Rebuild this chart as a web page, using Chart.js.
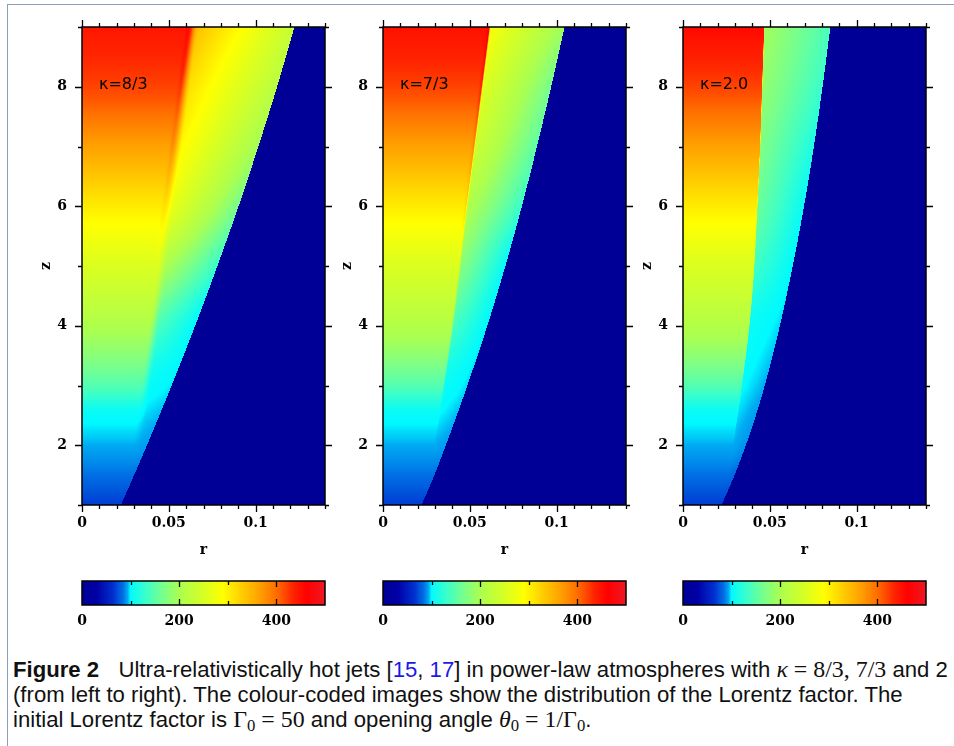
<!DOCTYPE html>
<html>
<head>
<meta charset="utf-8">
<script src="https://cdn.jsdelivr.net/npm/chart.js@4.4.1/dist/chart.umd.min.js"></script>
<style>
  html, body { margin: 0; padding: 0; background: #fff; }
  body { width: 954px; height: 746px; position: relative; overflow: hidden; }
  .frame { position: absolute; left: 7px; top: 4px; width: 960px; height: 760px;
           border-left: 1px solid #8d9fbb; border-top: 1px solid #8d9fbb; }
  canvas { position: absolute; }
  .cap { position: absolute; left: 13px; white-space: nowrap; color: #111;
         font-family: "Liberation Sans", Arial, sans-serif; font-size: 18px; line-height: 22px; }
  .cap b { margin-right: 0.6em; }
  .ref { color: #1a1ae6; }
  .m { font-family: "Liberation Serif", "DejaVu Serif", serif; font-size: 1.08em; }
  .m sub { font-size: 0.7em; vertical-align: -0.25em; }
</style>
</head>
<body>
<div class="frame"></div>
<div class="cap" id="cap1" style="top:658px"><b>Figure 2</b> Ultra-relativistically hot jets [<span class="ref">15</span>, <span class="ref">17</span>] in power-law atmospheres with <span class="m"><i>κ</i> = 8/3, 7/3</span> and 2</div>
<div class="cap" id="cap2" style="top:684px">(from left to right). The colour-coded images show the distribution of the Lorentz factor. The</div>
<div class="cap" id="cap3" style="top:708px">initial Lorentz factor is <span class="m">Γ<sub>0</sub> = 50</span> and opening angle <span class="m"><i>θ</i><sub>0</sub> = 1/Γ<sub>0</sub></span>.</div>

<script>
// ---- heights along the jet axis at which the profiles are given ----
const zLevels = [1, 1.5, 2, 2.5, 3, 4, 5, 6, 7, 8, 9];

// ---- kappa = 8/3 ----
const edgeK83          = [0.0224, 0.0300, 0.0374, 0.0446, 0.0516, 0.0652, 0.0780, 0.0902, 0.1016, 0.1124, 0.1224];
const coreK83          = [0.0224, 0.0255, 0.0283, 0.0312, 0.0340, 0.0385, 0.0428, 0.0472, 0.0518, 0.0564, 0.0610];
const gammaAxisK83     = [68, 84, 94, 102, 145, 205, 255, 305, 365, 420, 445];
const gammaRidgeK83    = [68, 84, 94, 102, 145, 205, 258, 315, 378, 428, 458];
const gammaShellInK83  = [68, 84, 94, 98, 104, 150, 215, 280, 305, 325, 350];
const gammaShellOutK83 = [68, 84, 92, 95, 98, 100, 130, 165, 195, 215, 230];

// ---- kappa = 7/3 ----
const edgeK73          = [0.0222, 0.0296, 0.0362, 0.0425, 0.0486, 0.0601, 0.0705, 0.0800, 0.0887, 0.0969, 0.1046];
const coreK73          = [0.0222, 0.0258, 0.0290, 0.0319, 0.0345, 0.0395, 0.0437, 0.0478, 0.0522, 0.0566, 0.0610];
const gammaAxisK73     = [68, 84, 94, 102, 145, 210, 255, 305, 365, 420, 450];
const gammaRidgeK73    = [68, 84, 94, 102, 145, 210, 262, 320, 385, 440, 470];
const gammaShellInK73  = [68, 84, 94, 99, 105, 140, 180, 210, 240, 260, 285];
const gammaShellOutK73 = [68, 84, 92, 95, 97, 98, 102, 130, 150, 165, 190];

// ---- kappa = 2 ----
const edgeK2           = [0.0222, 0.0297, 0.0362, 0.0420, 0.0471, 0.0558, 0.0632, 0.0697, 0.0754, 0.0804, 0.0849];
const coreK2           = [0.0222, 0.0255, 0.0286, 0.0312, 0.0337, 0.0380, 0.0408, 0.0426, 0.0442, 0.0454, 0.0466];
const gammaAxisK2      = [68, 84, 94, 102, 145, 210, 255, 305, 365, 420, 455];
const gammaRidgeK2     = [68, 84, 94, 102, 145, 210, 255, 305, 365, 420, 455];
const gammaShellInK2   = [68, 84, 94, 97, 100, 105, 135, 160, 172, 185, 195];
const gammaShellOutK2  = [68, 82, 90, 92, 94, 97, 99, 103, 115, 130, 140];

const panelLabels = ['κ=8/3', 'κ=7/3', 'κ=2.0'];

// ---- ticks ----
const rTickLabels = [0, 0.05, 0.1];
const rTickMarks  = [0, 0.01, 0.02, 0.03, 0.04, 0.05, 0.06, 0.07, 0.08, 0.09, 0.1, 0.11, 0.12, 0.13, 0.14];
const zTickLabels = [2, 4, 6, 8];
const zTickMarks  = [1, 2, 3, 4, 5, 6, 7, 8, 9];
const cbTickLabels = [0, 200, 400];
const cbTickMarks  = [100, 200, 300, 400];

// ---- colour table for the Lorentz factor ----
const CMAP = [
  [0, 0, 0, 150], [30, 0, 0, 165], [63, 0, 45, 205], [84, 0, 110, 228], [94, 0, 170, 242],
  [99, 0, 250, 255], [132, 60, 255, 200], [166, 120, 255, 140], [200, 170, 255, 80],
  [256, 220, 255, 30], [290, 255, 255, 0], [325, 255, 210, 0], [366, 255, 160, 0],
  [400, 255, 110, 0], [435, 255, 35, 0], [462, 255, 0, 0], [500, 238, 25, 35]
];
function colourOf(v) {
  if (v <= CMAP[0][0]) return CMAP[0].slice(1);
  for (let i = 1; i < CMAP.length; i++) {
    if (v <= CMAP[i][0]) {
      const a = CMAP[i - 1], b = CMAP[i], t = (v - a[0]) / (b[0] - a[0]);
      return [0, 1, 2].map(k => Math.round(a[k + 1] + (b[k + 1] - a[k + 1]) * t));
    }
  }
  return CMAP[CMAP.length - 1].slice(1);
}
function rgb(v) { const c = colourOf(v); return `rgb(${c[0]},${c[1]},${c[2]})`; }

// smooth (monotone cubic Hermite) interpolation of a profile along z
function interp(arr, z) {
  const X = zLevels, n = X.length;
  if (z <= X[0]) return arr[0];
  if (z >= X[n - 1]) return arr[n - 1];
  let i = 0;
  while (z > X[i + 1]) i++;
  const slope = k => {
    if (k === 0) return (arr[1] - arr[0]) / (X[1] - X[0]);
    if (k === n - 1) return (arr[n - 1] - arr[n - 2]) / (X[n - 1] - X[n - 2]);
    const s0 = (arr[k] - arr[k - 1]) / (X[k] - X[k - 1]);
    const s1 = (arr[k + 1] - arr[k]) / (X[k + 1] - X[k]);
    if (s0 * s1 <= 0) return 0;
    return 2 / (1 / s0 + 1 / s1);
  };
  const h = X[i + 1] - X[i], t = (z - X[i]) / h;
  const h00 = 2 * t * t * t - 3 * t * t + 1, h10 = t * t * t - 2 * t * t + t;
  const h01 = -2 * t * t * t + 3 * t * t, h11 = t * t * t - t * t;
  return h00 * arr[i] + h10 * h * slope(i) + h01 * arr[i + 1] + h11 * h * slope(i + 1);
}

const panels = [
  { edge: edgeK83, core: coreK83, axis: gammaAxisK83, ridge: gammaRidgeK83,
    shellIn: gammaShellInK83, shellOut: gammaShellOutK83, ridgeWidth: 0.0025, blend: 0.006 },
  { edge: edgeK73, core: coreK73, axis: gammaAxisK73, ridge: gammaRidgeK73,
    shellIn: gammaShellInK73, shellOut: gammaShellOutK73, ridgeWidth: 0.002, blend: 0.0012 },
  { edge: edgeK2, core: coreK2, axis: gammaAxisK2, ridge: gammaRidgeK2,
    shellIn: gammaShellInK2, shellOut: gammaShellOutK2, ridgeWidth: 0.001, blend: 0.0005 }
];

// Lorentz factor at (r, z): hot core, contact ridge, cocoon shell, ambient medium
function lorentz(p, r, z) {
  const e = interp(p.edge, z), c = Math.min(interp(p.core, z), e);
  if (r > e) return 0;
  const ga = interp(p.axis, z), gr = interp(p.ridge, z);
  if (r <= c) {
    const t = Math.max(0, 1 - (c - r) / p.ridgeWidth);
    return ga + (gr - ga) * t * t;
  }
  const gi = interp(p.shellIn, z), go = interp(p.shellOut, z);
  const s = gi + (go - gi) * Math.min(1, (r - c) / Math.max(e - c, 1e-6));
  if (r - c < p.blend) {
    const t = (r - c) / p.blend, sm = t * t * (3 - 2 * t);
    return gr + (s - gr) * sm;
  }
  return s;
}

function heatmapPlugin(p) {
  return {
    id: 'lorentzMap',
    beforeDatasetsDraw(chart) {
      const { ctx, chartArea: a, scales: { x, y } } = chart;
      const N = Math.round(a.right - a.left), M = Math.round(a.bottom - a.top);
      const r0 = x.min, r1 = x.max, z0 = y.min, z1 = y.max;
      const xs = [], ys = [];
      for (let i = 0; i <= N; i++) xs.push(Math.round(x.getPixelForValue(r0 + (r1 - r0) * i / N)));
      for (let j = 0; j <= M; j++) ys.push(Math.round(y.getPixelForValue(z0 + (z1 - z0) * j / M)));
      ctx.save();
      for (let j = 0; j < M; j++) {
        const z = z0 + (z1 - z0) * (j + 0.5) / M;
        const top = ys[j + 1], h = ys[j] - ys[j + 1];
        if (h <= 0) continue;
        let runStart = 0, runCol = null;
        for (let i = 0; i <= N; i++) {
          const col = i < N ? rgb(lorentz(p, r0 + (r1 - r0) * (i + 0.5) / N, z)) : null;
          if (col !== runCol) {
            if (runCol !== null) { ctx.fillStyle = runCol; ctx.fillRect(xs[runStart], top, xs[i] - xs[runStart], h); }
            runCol = col; runStart = i;
          }
        }
      }
      ctx.restore();
    }
  };
}

function isLabelled(list, v) { return list.some(t => Math.abs(t - v) < 1e-9); }

function framePlugin(label) {
  return {
    id: 'panelFrame',
    afterDraw(chart) {
      const { ctx, chartArea: a, scales: { x, y } } = chart;
      ctx.save();
      ctx.strokeStyle = '#000';
      ctx.lineWidth = 1.3;
      ctx.beginPath();
      rTickMarks.forEach(v => {
        const len = isLabelled(rTickLabels, v) ? 7 : 4;
        const px = Math.round(x.getPixelForValue(v)) + 0.5;
        ctx.moveTo(px, a.bottom); ctx.lineTo(px, a.bottom + len);
        ctx.moveTo(px, a.top); ctx.lineTo(px, a.top - len);
      });
      zTickMarks.forEach(v => {
        const len = isLabelled(zTickLabels, v) ? 7 : 4;
        const py = Math.round(y.getPixelForValue(v)) + 0.5;
        ctx.moveTo(a.left, py); ctx.lineTo(a.left - len, py);
        ctx.moveTo(a.right, py); ctx.lineTo(a.right + len, py);
      });
      ctx.stroke();
      ctx.lineWidth = 1.5;
      ctx.strokeRect(a.left, a.top, a.right - a.left, a.bottom - a.top);

      ctx.fillStyle = '#000';
      ctx.font = 'bold 14px "DejaVu Serif"';
      ctx.textAlign = 'center';
      ctx.textBaseline = 'middle';
      ctx.fillText('r', (a.left + a.right) / 2, a.bottom + 45);
      ctx.save();
      ctx.translate(a.left - 35.5, (a.top + a.bottom) / 2);
      ctx.rotate(-Math.PI / 2);
      ctx.fillText('z', 0, 0);
      ctx.restore();

      ctx.font = '16px "DejaVu Sans"';
      ctx.textAlign = 'left';
      ctx.fillStyle = '#000';
      ctx.fillText(label, x.getPixelForValue(0.0098), y.getPixelForValue(8.03));
      ctx.restore();
    }
  };
}

const tickFont = { family: 'DejaVu Serif', size: 14, weight: 'bold' };
const plotLefts = [82, 383, 683];
const plotWidth = 243;

function makeCanvas(left, top, w, h) {
  const c = document.createElement('canvas');
  c.width = w; c.height = h;
  c.style.left = left + 'px'; c.style.top = top + 'px';
  c.style.width = w + 'px'; c.style.height = h + 'px';
  document.body.appendChild(c);
  return c;
}

const baseOptions = {
  responsive: false, animation: false, devicePixelRatio: 1, events: [],
  plugins: { legend: { display: false }, tooltip: { enabled: false } }
};

plotLefts.forEach((pl, k) => {
  const cv = makeCanvas(pl - 60, 0, 60 + plotWidth + 20, 570);
  new Chart(cv, {
    type: 'scatter',
    data: { datasets: [] },
    options: Object.assign({}, baseOptions, {
      layout: { padding: { left: 0, top: 27, right: 20, bottom: 0 } },
      scales: {
        x: {
          type: 'linear', position: 'bottom', min: 0, max: 0.14,
          grid: { display: false, drawTicks: false }, border: { display: false },
          afterBuildTicks: s => { s.ticks = rTickLabels.map(v => ({ value: v })); },
          afterFit: s => { s.height = 65; },
          ticks: { padding: 10, color: '#000', font: tickFont, maxRotation: 0, autoSkip: false,
                   callback: v => String(v) }
        },
        y: {
          type: 'linear', position: 'left', min: 1, max: 9,
          grid: { display: false, drawTicks: false }, border: { display: false },
          afterBuildTicks: s => { s.ticks = zTickLabels.map(v => ({ value: v })); },
          afterFit: s => { s.width = 60; },
          ticks: { padding: 15, color: '#000', font: tickFont, autoSkip: false,
                   callback: v => String(v) }
        }
      }
    }),
    plugins: [heatmapPlugin(panels[k]), framePlugin(panelLabels[k])]
  });

  // colour bar under each panel
  const cb = makeCanvas(pl - 60, 570, 60 + plotWidth + 20, 60);
  new Chart(cb, {
    type: 'scatter',
    data: { datasets: [] },
    options: Object.assign({}, baseOptions, {
      layout: { padding: { left: 60, top: 11, right: 20, bottom: 0 } },
      scales: {
        x: {
          type: 'linear', position: 'bottom', min: 0, max: 500,
          grid: { display: false, drawTicks: false }, border: { display: false },
          afterBuildTicks: s => { s.ticks = cbTickLabels.map(v => ({ value: v })); },
          afterFit: s => { s.height = 25; },
          ticks: { padding: 8, color: '#000', font: tickFont, maxRotation: 0, autoSkip: false,
                   callback: v => String(v) }
        },
        y: { display: false, min: 0, max: 1 }
      }
    }),
    plugins: [{
      id: 'colourBar',
      beforeDatasetsDraw(chart) {
        const { ctx, chartArea: a, scales: { x } } = chart;
        for (let v = 0; v < 500; v++) {
          const x0 = Math.round(x.getPixelForValue(v)), x1 = Math.round(x.getPixelForValue(v + 1));
          ctx.fillStyle = rgb(v + 0.5);
          ctx.fillRect(x0, a.top, x1 - x0, a.bottom - a.top);
        }
      },
      afterDraw(chart) {
        const { ctx, chartArea: a, scales: { x } } = chart;
        ctx.save();
        ctx.strokeStyle = '#000';
        ctx.lineWidth = 1.3;
        ctx.beginPath();
        cbTickMarks.forEach(v => {
          const len = isLabelled(cbTickLabels, v) ? 6 : 4;
          const px = Math.round(x.getPixelForValue(v)) + 0.5;
          ctx.moveTo(px, a.top); ctx.lineTo(px, a.top + len);
          ctx.moveTo(px, a.bottom); ctx.lineTo(px, a.bottom - len);
        });
        ctx.stroke();
        ctx.lineWidth = 1.5;
        ctx.strokeRect(a.left, a.top, a.right - a.left, a.bottom - a.top);
        ctx.restore();
      }
    }]
  });
});

// caption: one font size for all three lines, set so the first line spans the page
(function fitCaption() {
  const l1 = document.getElementById('cap1');
  const w = l1.getBoundingClientRect().width;
  const fs = 18 * 935 / w;
  document.querySelectorAll('.cap').forEach(d => { d.style.fontSize = fs.toFixed(2) + 'px'; });
})();
</script>
</body>
</html>
